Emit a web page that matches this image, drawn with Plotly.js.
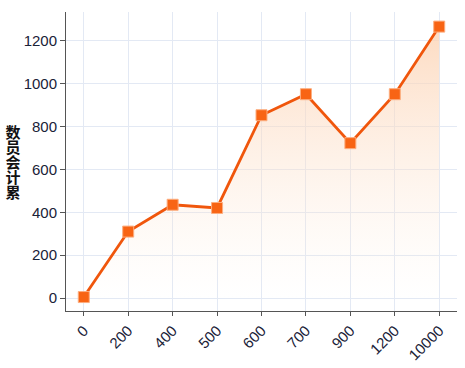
<!DOCTYPE html>
<html><head><meta charset="utf-8">
<script src="https://cdn.plot.ly/plotly-3.0.1.min.js"></script>
<style>html,body{margin:0;padding:0;background:#fff}</style>
</head><body>
<div id="chart" style="width:465px;height:368px"></div>
<script>
var categories = ["0","200","400","500","600","700","900","1200","10000"];
var values = [5, 310, 435, 420, 852, 950, 722, 950, 1265];
var yTitle = "数员会计累";

var trace = {
  x: categories, y: values, type: "scatter", mode: "lines+markers",
  fill: "tozeroy",
  fillgradient: {type: "vertical", colorscale: [[0, "rgba(253,236,222,0.0)"], [1, "rgba(252,210,178,0.8)"]]},
  line: {color: "#f0560c", width: 2.8},
  marker: {symbol: "square", size: 11, color: "#f86414", line: {color: "#fcae80", width: 1}},
  hoverinfo: "skip"
};
var layout = {
  width: 465, height: 368,
  margin: {l: 66, r: 8, t: 12, b: 57},
  paper_bgcolor: "#fff", plot_bgcolor: "#fff",
  font: {family: "Liberation Sans, Arial, sans-serif", color: "#1a2238", size: 15},
  showlegend: false,
  annotations: [{
    text: "<b>" + yTitle + "</b>", xref: "paper", yref: "paper",
    x: -0.135, y: 0.5, xanchor: "center", yanchor: "middle",
    showarrow: false,
    font: {size: 15, color: "#111", family: "Noto Sans CJK SC"}
  }],
  xaxis: {
    type: "category", range: [-0.4, 8.4], tickangle: -45,
    showgrid: true, gridcolor: "#e3e9f4", gridwidth: 1,
    showline: true, linecolor: "#555", linewidth: 1,
    ticks: "outside", ticklen: 4, tickcolor: "#555",
    tickfont: {size: 15, color: "#1a2238"}, zeroline: false
  },
  yaxis: {
    range: [-60, 1333], tickvals: [0,200,400,600,800,1000,1200],
    showgrid: true, gridcolor: "#e3e9f4", gridwidth: 1,
    showline: true, linecolor: "#555", linewidth: 1,
    ticks: "outside", ticklen: 5, tickcolor: "#555",
    tickfont: {size: 15, color: "#1a2238"}, zeroline: false
  }
};
Plotly.newPlot("chart", [trace], layout, {displayModeBar: false, staticPlot: true}).then(function() {
  var t = document.querySelector("#chart .annotation-text");
  if (!t) return;
  t.style.writingMode = "vertical-rl";
  t.style.textOrientation = "upright";
  var r = t.getBoundingClientRect();
  var cx = r.left + r.width / 2, cy = r.top + r.height / 2;
  var dx = 13 - cx, dy = 162 - cy;
  var tr = t.getAttribute("transform") || "";
  t.setAttribute("transform", "translate(" + dx + "," + dy + ") " + tr);
});
</script>
</body></html>
